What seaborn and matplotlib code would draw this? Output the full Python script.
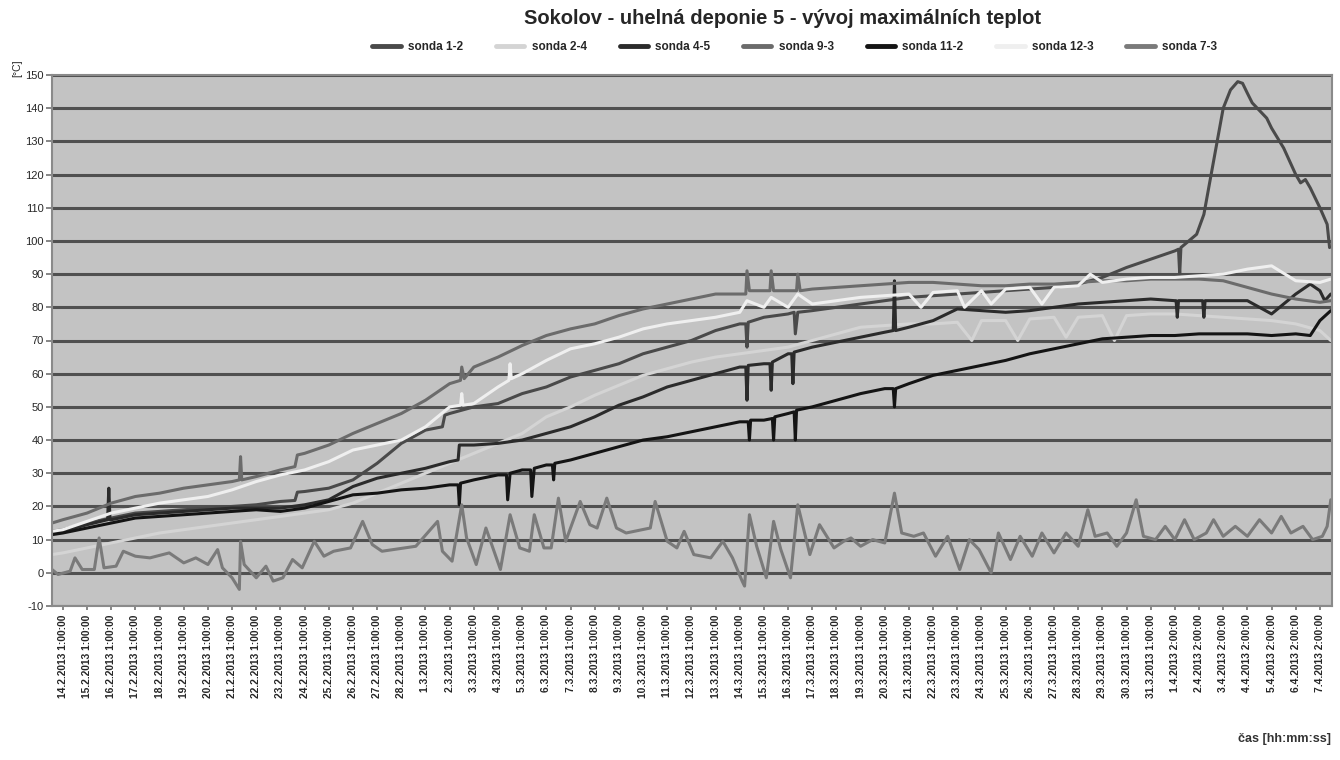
import pandas as pd
import matplotlib
matplotlib.use('Agg')
import matplotlib.pyplot as plt
from matplotlib.lines import Line2D
import seaborn as sns

# probes in legend order and their grey levels
probes = ['sonda 1-2', 'sonda 2-4', 'sonda 4-5', 'sonda 9-3',
          'sonda 11-2', 'sonda 12-3', 'sonda 7-3']
greys = ['#4a4a4a', '#d4d4d4', '#2b2b2b', '#6b6b6b',
         '#141414', '#efefef', '#7a7a7a']

# daily readings at the tick times (14.2.2013 ... 7.4.2013), degC
d_1_2 = [13, 15, 16.5, 18, 18.5, 19, 19.5, 20, 20.5, 21.5,
         24.5, 25.5, 28, 33, 39, 43, 48, 50, 51, 54,
         56, 59, 61, 63, 66, 68, 70, 73, 75, 77,
         78, 79, 80, 81, 82, 83, 83.5, 84, 84.5, 85,
         85.5, 86, 87, 89, 92, 94.5, 97, 104, 140, 144.5,
         134, 120, 110]
d_2_4 = [6, 7.5, 9, 10.5, 12, 13, 14, 15, 16, 17,
         18, 19, 21, 24, 27, 30, 33, 36, 39, 42,
         47, 50, 53.5, 56.5, 59.5, 61.5, 63.5, 65, 66, 67,
         68, 70, 72, 74, 74.5, 75, 75, 75.5, 76, 76,
         76.5, 77, 77, 77.5, 77.5, 78, 78, 77.5, 77, 76.5,
         76, 75, 73]
d_4_5 = [12.5, 14.5, 16, 17.5, 18, 18.5, 19, 19.5, 19.5, 19.5,
         20.5, 22, 26, 28.5, 30, 31.5, 33.5, 38.5, 39, 40,
         42, 44, 47, 50.5, 53, 56, 58, 60, 62, 63,
         66, 68, 69.5, 71, 72.5, 74, 76, 79.5, 79, 78.5,
         79, 80, 81, 81.5, 82, 82.5, 82, 82, 82, 82,
         78, 84, 85]
d_9_3 = [16, 18, 21, 23, 24, 25.5, 26.5, 27.5, 29, 31,
         36, 38.5, 42, 45, 48, 52, 57, 62, 65, 68.5,
         71.5, 73.5, 75, 77.5, 79.5, 81, 82.5, 84, 84, 85,
         85, 85.5, 86, 86.5, 87, 87.5, 87.5, 87, 86.5, 86.5,
         87, 87, 87.5, 88, 88, 88.5, 88.5, 88.5, 88, 86,
         84, 82.5, 81.5]
d_11_2 = [12, 13.5, 15, 16.5, 17, 17.5, 18, 18.5, 19, 18.5,
          19.5, 21.5, 23.5, 24, 25, 25.5, 26.5, 28, 29.5, 31,
          32.5, 34, 36, 38, 40, 41, 42.5, 44, 45.5, 46,
          48, 50, 52, 54, 55.5, 57, 59.5, 61, 62.5, 64,
          66, 67.5, 69, 70.5, 71, 71.5, 71.5, 72, 72, 72,
          71.5, 72, 76]
d_12_3 = [13, 15.5, 18, 19.5, 21, 22, 23, 25, 27.5, 29.5,
          31, 33.5, 37, 38.5, 40, 44, 50, 51, 56, 60,
          64, 67.5, 69, 71, 73.5, 75, 76, 77, 78.5, 80,
          80, 81, 82, 83, 83.5, 84, 84.5, 85, 85, 85.5,
          86, 86, 86.5, 87.5, 88.5, 89, 89, 89.5, 90, 91.5,
          92.5, 88, 87.5]
d_7_3 = []

# readings between the ticks (day offset, degC): start/end, spikes and dips
x_1_2 = [(-0.45, 12.5), (9.6, 21.8), (9.7, 24.3), (15.7, 44), (15.8, 47.5),
         (28.25, 75), (28.3, 68), (28.35, 75.5), (30.25, 78.5), (30.3, 72),
         (30.4, 78.5), (46.15, 97.5), (46.2, 90), (46.25, 98), (46.9, 102),
         (47.2, 108), (47.4, 116), (47.6, 124), (47.9, 136), (48.3, 145.5),
         (48.6, 148), (48.8, 147.5), (49.2, 141.6), (49.8, 137), (50.5, 128),
         (51.2, 117.5), (51.4, 118.5), (51.6, 116), (52.3, 105), (52.4, 98)]
x_2_4 = [(-0.45, 5.5), (37.6, 70), (39.5, 70), (41.5, 71), (43.5, 70),
         (52.45, 70)]
x_4_5 = [(-0.45, 12), (1.85, 16), (1.9, 25.5), (1.95, 16), (16.35, 34),
         (16.4, 38.5), (28.25, 62), (28.3, 52), (28.35, 62.5), (29.25, 63),
         (29.3, 55), (29.35, 63.5), (30.15, 66), (30.2, 57), (30.25, 66.5),
         (34.35, 73), (34.4, 88), (34.45, 73), (46.05, 82), (46.1, 77),
         (46.15, 82), (47.15, 82), (47.2, 77), (47.25, 82), (51.6, 87),
         (52.2, 82), (52.45, 84)]
x_9_3 = [(-0.45, 15), (7.3, 28), (7.35, 35), (7.4, 28), (9.6, 32),
         (9.7, 35.5), (16.45, 58), (16.5, 62), (16.6, 58.5), (28.25, 84),
         (28.3, 91), (28.4, 85), (29.25, 85), (29.3, 91), (29.4, 85),
         (30.35, 85), (30.4, 90), (30.5, 85), (52.45, 82)]
x_11_2 = [(-0.45, 11.5), (16.35, 26.5), (16.4, 20.5), (16.45, 27),
          (18.35, 29.5), (18.4, 22), (18.5, 30), (19.35, 31), (19.4, 23),
          (19.5, 31.5), (20.25, 32.5), (20.3, 28), (20.35, 33), (28.35, 45.5),
          (28.4, 40), (28.45, 46), (29.35, 46.5), (29.4, 40), (29.45, 47),
          (30.25, 48.5), (30.3, 40), (30.35, 49), (34.35, 55.5), (34.4, 50),
          (34.45, 55.5), (51.6, 71.5), (52.45, 79)]
x_12_3 = [(-0.45, 12.5), (16.45, 50.5), (16.5, 54), (16.55, 50.5),
          (18.45, 58), (18.5, 63), (18.55, 58.5), (28.3, 82), (29.3, 83),
          (30.4, 84), (35.5, 80), (37.3, 80), (38.4, 81), (40.5, 81),
          (42.5, 90), (52.45, 88.5)]
x_7_3 = [(-0.45, 1), (-0.2, -0.5), (0.3, 0.5), (0.5, 4.5), (0.8, 1), (1.3, 1),
         (1.5, 10.5), (1.7, 1.5), (2.2, 2), (2.5, 6.5), (3.0, 5), (3.6, 4.5),
         (4.4, 6), (5.0, 3), (5.5, 4.5), (6.0, 2.5), (6.4, 7), (6.6, 1.5),
         (7.0, -1.5), (7.3, -5), (7.35, 9.5), (7.5, 2.5), (8.0, -1.5),
         (8.4, 2), (8.7, -2.5), (9.1, -1.5), (9.5, 4), (9.9, 1.5), (10.4, 9.5),
         (10.8, 5), (11.2, 6.5), (11.9, 7.5), (12.4, 15.5), (12.8, 8.5),
         (13.2, 6.5), (14.6, 8), (15.5, 15.5), (15.7, 6.5), (16.1, 3.5),
         (16.5, 20.5), (16.7, 10.5), (17.1, 2.5), (17.5, 13.5), (18.1, 1),
         (18.5, 17.5), (18.9, 7.5), (19.3, 6.5), (19.5, 17.5), (19.9, 7.5),
         (20.2, 7.5), (20.5, 22.5), (20.8, 9.5), (21.4, 21.5), (21.8, 14.5),
         (22.1, 13.5), (22.5, 22.5), (22.9, 13.5), (23.3, 12), (24.3, 13.5),
         (24.5, 21.5), (25.0, 9.5), (25.4, 7.5), (25.7, 12.5), (26.1, 5.5),
         (26.8, 4.5), (27.3, 9.5), (27.7, 4.5), (28.1, -2.5), (28.2, -4),
         (28.4, 17.5), (28.7, 8), (29.1, -1.5), (29.4, 15.5), (29.7, 7),
         (30.1, -1.5), (30.4, 20.5), (30.9, 5.5), (31.3, 14.5), (31.9, 7.5),
         (32.3, 9.5), (32.6, 10.5), (33.0, 8), (33.5, 10), (34.0, 9),
         (34.4, 24), (34.7, 12), (35.2, 11), (35.6, 12), (36.1, 5), (36.6, 11),
         (37.1, 1), (37.5, 10), (37.9, 7), (38.4, 0), (38.7, 12), (39.2, 4),
         (39.6, 11), (40.1, 5), (40.5, 12), (41.0, 6), (41.5, 12), (42.0, 8),
         (42.4, 19), (42.7, 11), (43.2, 12), (43.6, 8), (44.0, 12), (44.4, 22),
         (44.7, 11), (45.2, 10), (45.6, 14), (46.0, 10), (46.4, 16), (46.8, 10),
         (47.3, 12), (47.6, 16), (48.0, 11), (48.5, 14), (49.0, 11), (49.5, 16),
         (50.0, 12), (50.4, 17), (50.8, 12), (51.3, 14), (51.7, 10), (52.1, 11),
         (52.3, 14), (52.45, 22)]

dailies = [d_1_2, d_2_4, d_4_5, d_9_3, d_11_2, d_12_3, d_7_3]
extras = [x_1_2, x_2_4, x_4_5, x_9_3, x_11_2, x_12_3, x_7_3]

# tick labels, one per day; summer time from 31.3.
dates = pd.date_range('2013-02-14', '2013-04-07', freq='D')
tick_labels = [f'{d.day}.{d.month}.{d.year} {2 if d.month == 4 else 1}:00:00'
               for d in dates]

frames = []
for name, daily, extra in zip(probes, dailies, extras):
    f = pd.DataFrame(list(enumerate(daily)) + extra, columns=['den', 'teplota'])
    f['sonda'] = name
    frames.append(f.sort_values('den'))
df = pd.concat(frames, ignore_index=True)

sns.set_theme(style='white')
plt.rcParams['font.family'] = ['Liberation Sans', 'DejaVu Sans']
plt.rcParams['axes.unicode_minus'] = False

fig = plt.figure(figsize=(13.4, 7.6), dpi=100)
ax = fig.add_axes([52 / 1340, 1 - 606 / 760, 1280 / 1340, 531 / 760])
ax.set_facecolor('#c3c3c3')

sns.lineplot(data=df, x='den', y='teplota', hue='sonda', hue_order=probes,
             palette=dict(zip(probes, greys)), estimator=None, sort=False,
             linewidth=2.2, legend=False, ax=ax)

ax.set_xlim(-0.45, 52.5)
ax.set_ylim(-10, 150)
ax.set_yticks(range(-10, 151, 10))
ax.yaxis.grid(True, color='#505050', linewidth=2.2)
ax.set_axisbelow(True)
ax.set_xticks(range(len(tick_labels)))
ax.set_xticklabels(tick_labels, rotation=90, fontsize=7.4, fontweight='bold')
ax.tick_params(axis='y', labelsize=8, length=4, color='#777777', pad=2)
ax.tick_params(axis='x', length=3, color='#777777', pad=3)
ax.tick_params(left=True, bottom=True)
for s in ax.spines.values():
    s.set_color('#8a8a8a')
    s.set_linewidth(1.5)
ax.set_xlabel('')
ax.set_ylabel('')

fig.text(0.009, 0.91, '[°C]', rotation=90, fontsize=7.5, ha='left', va='center')
fig.text(0.993, 0.02, 'čas [hh:mm:ss]', fontsize=9, fontweight='bold',
         ha='right', va='bottom', color='#333333')
fig.text(0.584, 0.975, 'Sokolov - uhelná deponie 5 - vývoj maximálních teplot',
         fontsize=14.5, fontweight='bold', ha='center', va='center',
         family=['Liberation Sans Narrow', 'Liberation Sans', 'DejaVu Sans'])

handles = [Line2D([], [], color=c, linewidth=3.5) for c in greys]
fig.legend(handles, probes, loc='center', bbox_to_anchor=(0.593, 0.938), ncol=7,
           frameon=False, handlelength=2.4, handletextpad=0.6, columnspacing=2.8,
           prop={'weight': 'bold', 'size': 8.5})

fig.savefig('out.png', dpi=100, facecolor='white')
